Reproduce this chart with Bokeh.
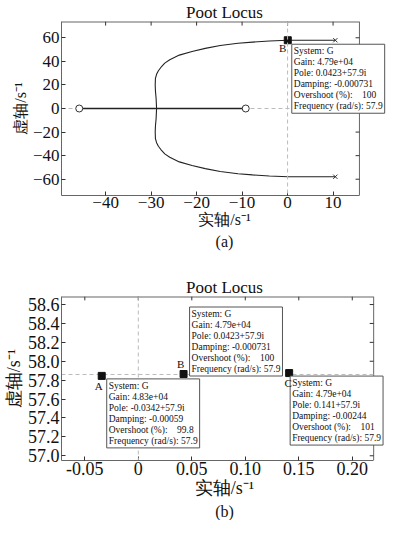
from bokeh.plotting import figure
from bokeh.models import Range1d, FixedTicker, Label, Span, Title
from bokeh.layouts import column
from bokeh.embed import file_html
from bokeh.resources import INLINE

SERIF = "Liberation Serif"

# ---------------- data: figure (a) ----------------
upper_x = [10.5, 6.0, 3.0, 0.04, -4.0, -7.7, -10.9, -14.8, -18.1, -21.0, -23.8,
           -25.9, -27.0, -27.7, -28.4, -28.8, -29.05, -29.1, -29.05, -28.9, -28.8]
upper_y = [57.9, 57.9, 57.9, 57.85, 57.2, 56.3, 55.4, 53.4, 51.0, 48.4, 45.3,
           41.3, 38.5, 35.6, 32.0, 29.0, 25.5, 20.0, 15.0, 8.5, 0.0]
lower_x = [10.5, 6.0, 3.0, 0.04, -4.0, -7.7, -10.9, -14.8, -18.1, -21.0, -23.8,
           -25.9, -27.0, -27.7, -28.4, -28.8, -29.05, -29.1, -29.05, -28.9, -28.8]
lower_y = [-57.9, -57.9, -57.9, -57.85, -57.2, -56.3, -55.4, -53.4, -51.0, -48.4, -45.3,
           -41.3, -38.5, -35.6, -32.0, -29.0, -25.5, -20.0, -15.0, -8.5, 0.0]
real_seg_x = [-45.8, -9.2]
real_seg_y = [0.0, 0.0]
zero_x = [-45.8, -9.2]
zero_y = [0.0, 0.0]
pole_x = [10.5, 10.5]
pole_y = [57.9, -57.9]
a_tip_x = [0.0423]
a_tip_y = [57.9]
a_tip_names = ["B"]
a_xticks = [-40, -30, -20, -10, 0, 10]
a_yticks = [-60, -40, -20, 0, 20, 40, 60]
a_xlim = (-49.7, 15.8)
a_ylim = (-73.8, 73.8)

# ---------------- data: figure (b) ----------------
b_tip_x = [-0.0342, 0.0423, 0.141]
b_tip_y = [57.845, 57.865, 57.875]
b_tip_names = ["A", "B", "C"]
b_locus_level = 57.86
b_xticks = [-0.05, 0.0, 0.05, 0.10, 0.15, 0.20]
b_xtick_labels = ["-0.05", "0", "0.05", "0.10", "0.15", "0.20"]
b_yticks = [57.0, 57.2, 57.4, 57.6, 57.8, 58.0, 58.2, 58.4, 58.6]
b_ytick_labels = ["57.0", "57.2", "57.4", "57.6", "57.8", "58.0", "58.2", "58.4", "58.6"]
b_xlim = (-0.0718, 0.22)
b_ylim = (56.95, 58.685)

NB = "\u00a0"
tip_B_text = "\n".join(["System: G", "Gain: 4.79e+04", "Pole: 0.0423+57.9i",
                        "Damping: -0.000731", "Overshoot (%):" + NB * 4 + "100",
                        "Frequency (rad/s): 57.9"])
tip_A_text = "\n".join(["System: G", "Gain: 4.83e+04", "Pole: -0.0342+57.9i",
                        "Damping: -0.00059", "Overshoot (%):" + NB * 4 + "99.8",
                        "Frequency (rad/s): 57.9"])
tip_C_text = "\n".join(["System: G", "Gain: 4.79e+04", "Pole: 0.141+57.9i",
                        "Damping: -0.00244", "Overshoot (%):" + NB * 4 + "101",
                        "Frequency (rad/s): 57.9"])

FRAME = "#666666"
TICK = "#333333"


def build(width, height, xlim, ylim, extra_px, border_left, border_top,
          border_bottom, xticks, yticks, tick_size, label_size, title_size,
          title_offset, caption, caption_offset):
    # The plotting frame runs to the figure's right edge so that the data
    # tips can overflow the axes box, as they do in the reference; the box's
    # top and right edges (with inward ticks) are drawn at xlim / ylim.
    inner_w = width - border_left
    scale = (inner_w - extra_px) / (xlim[1] - xlim[0])
    x_end = xlim[1] + extra_px / scale
    p = figure(width=width, height=height, title="Poot Locus",
               x_range=Range1d(xlim[0], x_end), y_range=Range1d(*ylim),
               output_backend="svg", toolbar_location=None,
               min_border_left=border_left, min_border_right=0,
               min_border_top=border_top, min_border_bottom=border_bottom)
    p.grid.visible = False
    p.outline_line_color = None
    p.title.text_font = SERIF
    p.title.text_font_style = "normal"
    p.title.text_font_size = title_size
    p.title.text_color = "#111111"
    p.title.align = "center"
    p.title.offset = title_offset
    p.title.standoff = 0

    xa = p.xaxis[0]
    ya = p.yaxis[0]
    for ax in (xa, ya):
        ax.major_label_text_font = SERIF
        ax.major_label_text_font_size = tick_size
        ax.major_label_text_color = "#111111"
        ax.axis_label_text_font = SERIF
        ax.axis_label_text_font_style = "normal"
        ax.axis_label_text_font_size = label_size
        ax.axis_label_text_color = "#111111"
        ax.major_tick_in = 4
        ax.major_tick_out = 0
        ax.minor_tick_line_color = None
        ax.axis_line_color = FRAME
        ax.major_tick_line_color = TICK
        ax.major_label_standoff = 2
        ax.axis_label_standoff = 1
    xa.major_label_standoff = 1
    xa.axis_label_standoff = 0
    xa.ticker = FixedTicker(ticks=xticks)
    ya.ticker = FixedTicker(ticks=yticks)
    xa.bounds = (xlim[0], xlim[1])

    # top and right edges of the axes box, with inward ticks
    tick_dx = 4.0 / scale
    tick_dy = 4.0 * (ylim[1] - ylim[0]) / 170.0
    p.segment(x0=[xlim[0]], y0=[ylim[1]], x1=[xlim[1]], y1=[ylim[1]],
              line_color=FRAME, line_width=2)
    p.segment(x0=[xlim[1]], y0=[ylim[0]], x1=[xlim[1]], y1=[ylim[1]],
              line_color=FRAME, line_width=1)
    p.segment(x0=list(xticks), y0=[ylim[1]] * len(xticks),
              x1=list(xticks), y1=[ylim[1] - tick_dy] * len(xticks),
              line_color=TICK, line_width=1)
    p.segment(x0=[xlim[1]] * len(yticks), y0=list(yticks),
              x1=[xlim[1] - tick_dx] * len(yticks), y1=list(yticks),
              line_color=TICK, line_width=1)

    p.add_layout(Title(text=caption, align="center", text_font=SERIF,
                       text_font_style="normal", text_font_size="16px",
                       text_color="#111111", offset=caption_offset,
                       standoff=0), "below")
    return p, xa, ya


def tip_label(p, x, y, text, dx, dy):
    p.add_layout(Label(x=x, y=y, x_offset=dx, y_offset=dy, text=text,
                       text_font=SERIF, text_font_size="9.5px",
                       text_line_height=1.1, text_align="left",
                       text_baseline="top", text_color="#111111",
                       background_fill_color="white",
                       border_line_color="#555555", border_line_width=1,
                       padding=2))


def letter_label(p, x, y, text, dx, dy):
    p.add_layout(Label(x=x, y=y, x_offset=dx, y_offset=dy, text=text,
                       text_font=SERIF, text_font_size="11px",
                       text_align="center", text_baseline="middle",
                       text_color="#111111"))


def dashed(p, xs, ys):
    p.line(xs, ys, line_color="#bbbbbb", line_dash="4 3", line_width=1)


# ---------------- figure (a) ----------------
p1, xa1, ya1 = build(387, 252, a_xlim, a_ylim, 29, 50, 21, 57,
                     a_xticks, a_yticks, "17px", "16px", "17px", -15, "(a)", -18)
xa1.axis_label = "实轴/s⁻¹"
ya1.axis_label = "虚轴/s⁻¹"

p1.add_layout(Span(location=0, dimension="height", line_color="#bbbbbb",
                   line_dash="4 3", line_width=1))
dashed(p1, list(a_xlim), [0, 0])
p1.line(upper_x, upper_y, line_color="#222222", line_width=1.1)
p1.line(lower_x, lower_y, line_color="#222222", line_width=1.1)
p1.line(real_seg_x, real_seg_y, line_color="#222222", line_width=1.3)
p1.scatter(zero_x, zero_y, marker="circle", size=7, fill_color="white",
           line_color="#333333", line_width=1)
p1.scatter(pole_x, pole_y, marker="x", size=6, line_color="#333333",
           line_width=1)
p1.scatter(a_tip_x, a_tip_y, marker="square", size=7, fill_color="#111111",
           line_color="#111111")
tip_label(p1, a_tip_x[0], a_tip_y[0], tip_B_text, 4, -4)
letter_label(p1, a_tip_x[0], a_tip_y[0], a_tip_names[0], -5, -8)

# ---------------- figure (b) ----------------
p2, xa2, ya2 = build(387, 268, b_xlim, b_ylim, 14, 57, 44, 60,
                     b_xticks, b_yticks, "18px", "18px", "17px", -13, "(b)", -21)
xa2.axis_label = "实轴/s⁻¹"
ya2.axis_label = "虚轴/s⁻¹"
xa2.major_label_overrides = {t: s for t, s in zip(b_xticks, b_xtick_labels)}
ya2.major_label_overrides = {t: s for t, s in zip(b_yticks, b_ytick_labels)}

p2.add_layout(Span(location=0, dimension="height", line_color="#bbbbbb",
                   line_dash="4 3", line_width=1))
dashed(p2, list(b_xlim), [b_locus_level, b_locus_level])
p2.scatter(b_tip_x, b_tip_y, marker="square", size=7, fill_color="#111111",
           line_color="#111111")
tip_label(p2, b_tip_x[0], b_tip_y[0], tip_A_text, 5, -3)
tip_label(p2, b_tip_x[1], b_tip_y[1], tip_B_text, 6, 67)
tip_label(p2, b_tip_x[2], b_tip_y[2], tip_C_text, 1, -3)
letter_label(p2, b_tip_x[0], b_tip_y[0], b_tip_names[0], -3, -10)
letter_label(p2, b_tip_x[1], b_tip_y[1], b_tip_names[1], -3, 10)
letter_label(p2, b_tip_x[2], b_tip_y[2], b_tip_names[2], -1, -10)

layout = column(p1, p2, spacing=0)
open("out.html", "w").write(file_html(layout, INLINE))
